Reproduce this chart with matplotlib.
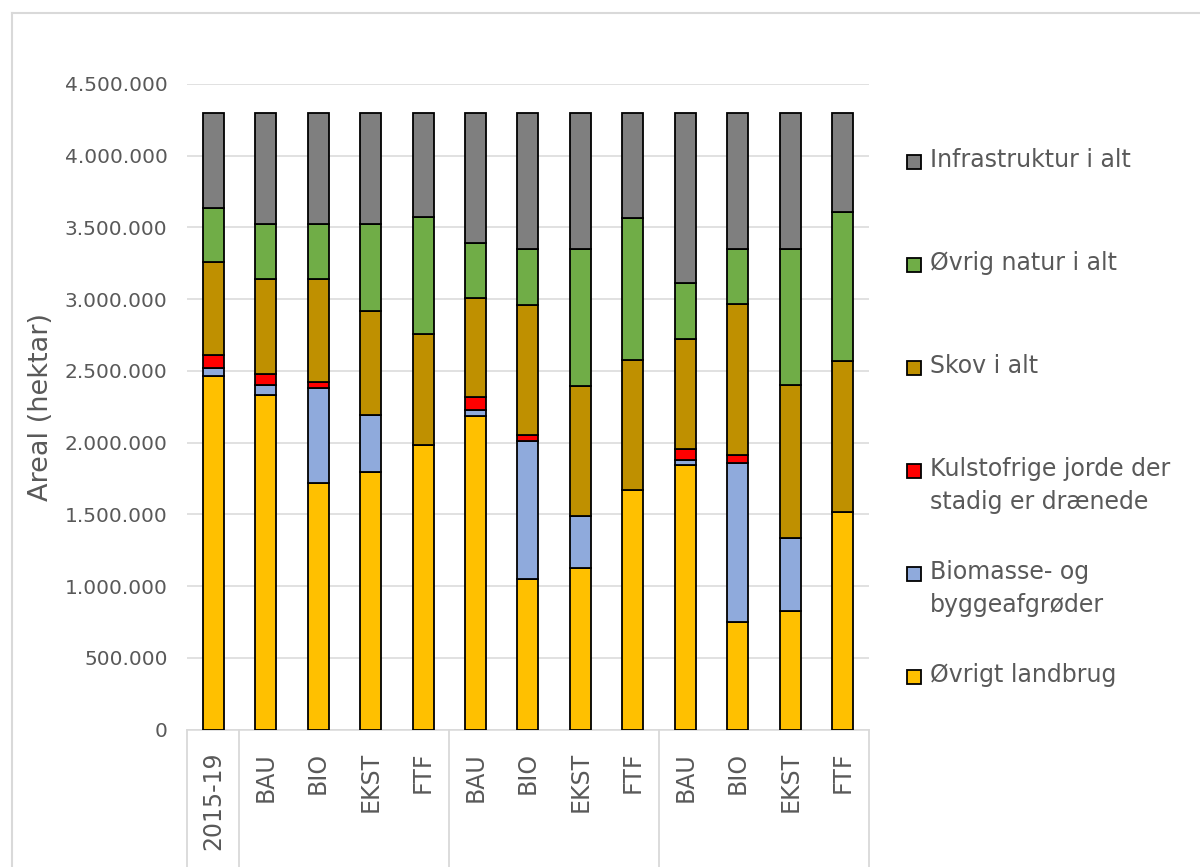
import matplotlib
matplotlib.use('Agg')
from matplotlib import pyplot as plt
from matplotlib.lines import Line2D
from matplotlib.patches import Rectangle
from matplotlib.ticker import FuncFormatter

# Land use per scenario (hectares)
categories = ['2015-19', 'BAU', 'BIO', 'EKST', 'FTF', 'BAU', 'BIO', 'EKST', 'FTF',
              'BAU', 'BIO', 'EKST', 'FTF']
landbrug = [2462000, 2330000, 1719000, 1796000, 1981000, 2188000, 1053000,
            1126000, 1671000, 1847000, 751000, 830000, 1519000]
biomasse = [56000, 73000, 660000, 400000, 0, 42000, 956000,
            365000, 0, 30000, 1107000, 509000, 0]
kulstof = [96000, 79000, 42000, 0, 0, 86000, 42000,
           0, 0, 80000, 56000, 0, 0]
skov = [644000, 661000, 721000, 723000, 777000, 693000, 905000,
        902000, 902000, 767000, 1049000, 1060000, 1053000]
natur = [375000, 384000, 384000, 607000, 813000, 384000, 391000,
         954000, 991000, 391000, 384000, 954000, 1035000]
infra = [663000, 770000, 770000, 770000, 723000, 902000, 949000,
         949000, 733000, 1181000, 949000, 942000, 689000]

series = [
    ('Øvrigt landbrug', landbrug, '#ffc000'),
    ('Biomasse- og\nbyggeafgrøder', biomasse, '#8faadc'),
    ('Kulstofrige jorde der\nstadig er drænede', kulstof, '#ff0000'),
    ('Skov i alt', skov, '#bf9000'),
    ('Øvrig natur i alt', natur, '#70ad47'),
    ('Infrastruktur i alt', infra, '#7f7f7f'),
]
group_edges = [-0.5, 0.5, 4.5, 8.5, 12.5]

text_color = '#595959'
grid_color = '#d9d9d9'
plt.rcParams['font.family'] = ['DejaVu Sans']

fig = plt.figure(figsize=(12, 8.67), dpi=100)
ax = fig.add_axes([0.1558, 0.1584, 0.5683, 0.7448])

x = list(range(len(categories)))
bottom = [0] * len(categories)
for name, values, color in series:
    ax.bar(x, values, width=0.4, bottom=bottom, color=color,
           edgecolor='black', linewidth=1.3, zorder=3)
    bottom = [b + v for b, v in zip(bottom, values)]

# Axes formatting
ax.set_xlim(-0.5, 12.5)
ax.set_ylim(0, 4500000)
ax.set_yticks(range(0, 4500001, 500000))
ax.yaxis.set_major_formatter(FuncFormatter(lambda v, p: f'{int(v):,}'.replace(',', '.')))
ax.grid(axis='y', color=grid_color, linewidth=1.1, zorder=0)
for side in ['left', 'right', 'top']:
    ax.spines[side].set_visible(False)
ax.spines['bottom'].set_color(grid_color)
ax.spines['bottom'].set_linewidth(1.1)

ax.set_xticks(x)
ax.set_xticklabels(categories, rotation=90, fontsize=17, color=text_color)
ax.tick_params(axis='x', length=0, pad=16)
ax.tick_params(axis='y', length=0, pad=14, labelsize=14.5, labelcolor=text_color)
ax.set_ylabel('Areal (hektar)', fontsize=19.5, color=text_color)
ax.yaxis.set_label_coords(-0.195, 0.5)

# Group separators under the category axis
trans = ax.get_xaxis_transform()
for xe in group_edges:
    ax.add_line(Line2D([xe, xe], [0, -0.4], transform=trans, color=grid_color,
                       linewidth=1.3, clip_on=False))

# Legend, top entry first
W, H = 1200, 867
for i, (name, values, color) in enumerate(reversed(series)):
    yc = 162 + i * 103
    fig.patches.append(Rectangle((907 / W, 1 - (yc + 7) / H), 14 / W, 14 / H,
                                 transform=fig.transFigure, facecolor=color,
                                 edgecolor='black', linewidth=1.3))
    fig.text(930 / W, 1 - (yc - 14) / H, name, fontsize=17, color=text_color,
             va='top', ha='left', linespacing=1.45)

# Outer frame (top and left edges)
fig.add_artist(Line2D([12 / W, 12 / W], [0, 1 - 13 / H], transform=fig.transFigure,
                      color=grid_color, linewidth=1.5))
fig.add_artist(Line2D([12 / W, 1], [1 - 13 / H, 1 - 13 / H], transform=fig.transFigure,
                      color=grid_color, linewidth=1.5))

fig.savefig('out.png', dpi=100, facecolor='white')
